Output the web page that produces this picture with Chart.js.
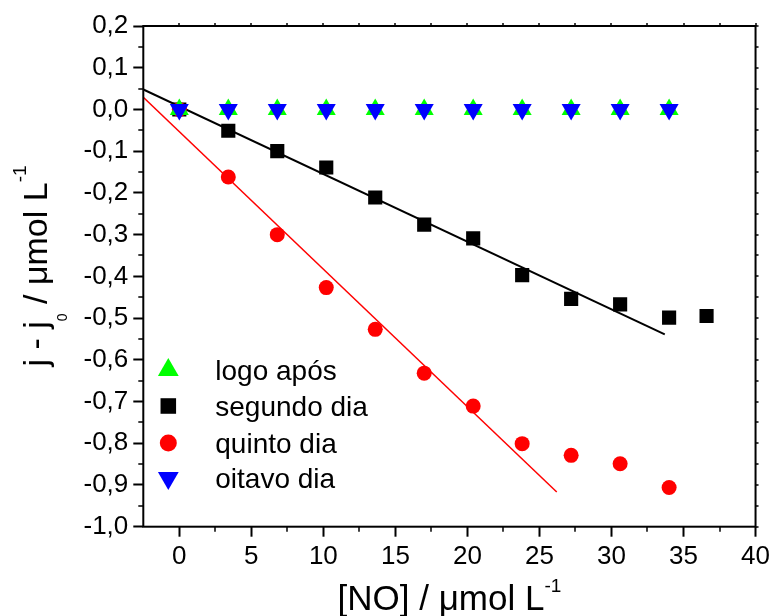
<!DOCTYPE html>
<html>
<head>
<meta charset="utf-8">
<script src="https://cdn.jsdelivr.net/npm/chart.js@4"></script>
<style>
  body { margin: 0; background: #fff; }
  canvas { display: block; }
</style>
</head>
<body>
<canvas id="chart" width="775" height="616"></canvas>
<script>
// [NO] / µmol L-1
const concNO = [0, 3.4, 6.8, 10.2, 13.6, 17.0, 20.4, 23.8, 27.2, 30.6, 34.0];
const concNOSegundo = [0, 3.4, 6.8, 10.2, 13.6, 17.0, 20.4, 23.8, 27.2, 30.6, 34.0, 36.6];

// j - j0 / µmol L-1
const logoApos = [0, 0, 0, 0, 0, 0, 0, 0, 0, 0, 0];
const segundoDia = [0, -0.051, -0.100, -0.139, -0.211, -0.276, -0.309, -0.397, -0.454, -0.467, -0.499, -0.495];
const quintoDia = [0, -0.162, -0.300, -0.427, -0.527, -0.632, -0.711, -0.801, -0.829, -0.849, -0.906];
const oitavoDia = [0, 0, 0, 0, 0, 0, 0, 0, 0, 0, 0];

// linear fits (end points)
const fitSegundoX = [-2.5, 33.7];
const fitSegundoY = [0.048, -0.539];
const fitQuintoX = [-2.5, 26.2];
const fitQuintoY = [0.029, -0.917];

const xTicks = [0, 5, 10, 15, 20, 25, 30, 35, 40];
const yTicks = [-1.0, -0.9, -0.8, -0.7, -0.6, -0.5, -0.4, -0.3, -0.2, -0.1, 0.0, 0.1, 0.2];

const FONT = "'Liberation Sans', Arial, sans-serif";

const toXY = (xs, ys) => ys.map((v, i) => ({ x: xs[i], y: v }));

const fmtComma = v => (Math.abs(v) < 1e-9 ? 0 : v).toFixed(1).replace('.', ',');

// legend drawn inside the plot area, bottom left
const insideLegend = {
  id: 'insideLegend',
  afterDraw(chart) {
    const { ctx, chartArea } = chart;
    const items = [
      { ds: 0, r: 12 },
      { ds: 1, r: 11 },
      { ds: 2, r: 8.5 },
      { ds: 3, r: 12 }
    ];
    const rowY = [370, 406, 443, 478];
    ctx.save();
    items.forEach((it, i) => {
      const ds = chart.data.datasets[it.ds];
      ctx.fillStyle = ds.backgroundColor;
      Chart.helpers.drawPoint(ctx, {
        pointStyle: ds.pointStyle,
        rotation: ds.rotation || 0,
        radius: it.r,
        borderWidth: 0
      }, chartArea.left + 25, rowY[i]);
      ctx.fillStyle = '#000';
      ctx.font = '28px ' + FONT;
      ctx.textAlign = 'left';
      ctx.textBaseline = 'alphabetic';
      ctx.fillText(ds.label, chartArea.left + 72, rowY[i] + 10);
    });
    ctx.restore();
  }
};

// box, minor ticks and axis titles with sub/superscripts
const frame = {
  id: 'frame',
  afterDraw(chart) {
    const { ctx, chartArea: a, scales: { x, y } } = chart;
    ctx.save();
    ctx.strokeStyle = '#000';
    ctx.lineWidth = 2;
    ctx.strokeRect(a.left, a.top, a.right - a.left, a.bottom - a.top);

    ctx.lineWidth = 1.5;
    ctx.beginPath();
    for (let v = 0; v <= 40; v += 2.5) {
      const px = Math.round(x.getPixelForValue(v));
      if (v % 5 !== 0) {
        ctx.moveTo(px, a.bottom);
        ctx.lineTo(px, a.bottom + 5);
      }
      ctx.moveTo(px, a.top);
      ctx.lineTo(px, a.top - 3);
    }
    for (let k = -20; k <= 4; k++) {
      const v = k * 0.05;
      const py = Math.round(y.getPixelForValue(v));
      if (k % 2 !== 0) {
        ctx.moveTo(a.left, py);
        ctx.lineTo(a.left - 5, py);
      }
      ctx.moveTo(a.right, py);
      ctx.lineTo(a.right + 3, py);
    }
    ctx.stroke();

    ctx.fillStyle = '#000';
    ctx.textBaseline = 'alphabetic';
    ctx.textAlign = 'left';
    const drawRuns = (runs, cx, cy) => {
      let w = 0;
      runs.forEach(r => { ctx.font = r.f + 'px ' + FONT; w += ctx.measureText(r.t).width; });
      let px = cx - w / 2;
      runs.forEach(r => {
        ctx.font = r.f + 'px ' + FONT;
        ctx.fillText(r.t, px, cy + r.dy);
        px += ctx.measureText(r.t).width;
      });
    };

    drawRuns([
      { t: '[NO] / \u03bcmol L', f: 35, dy: 0 },
      { t: '-1', f: 19, dy: -18 }
    ], (a.left + a.right) / 2, 610);

    ctx.save();
    ctx.translate(47, 266);
    ctx.rotate(-Math.PI / 2);
    drawRuns([
      { t: 'j - j', f: 34, dy: 0 },
      { t: '0', f: 14, dy: 20 },
      { t: ' / \u03bcmol L', f: 34, dy: 0 },
      { t: '-1', f: 19, dy: -21 }
    ], 0, 0);
    ctx.restore();
    ctx.restore();
  }
};

new Chart(document.getElementById('chart'), {
  type: 'scatter',
  data: {
    datasets: [
      {
        label: 'logo após',
        data: toXY(concNO, logoApos),
        pointStyle: 'triangle',
        pointRadius: 11,
        backgroundColor: '#00ff00',
        borderWidth: 0,
        order: 1
      },
      {
        label: 'segundo dia',
        data: toXY(concNOSegundo, segundoDia),
        pointStyle: 'rect',
        pointRadius: 10,
        backgroundColor: '#000000',
        borderWidth: 0,
        order: 3
      },
      {
        label: 'quinto dia',
        data: toXY(concNO, quintoDia),
        pointStyle: 'circle',
        pointRadius: 7.5,
        backgroundColor: '#ff0000',
        borderWidth: 0,
        order: 2
      },
      {
        label: 'oitavo dia',
        data: toXY(concNO, oitavoDia),
        pointStyle: 'triangle',
        rotation: 180,
        pointRadius: 11,
        backgroundColor: '#0000ff',
        borderWidth: 0,
        order: 0
      },
      {
        type: 'line',
        label: 'ajuste segundo dia',
        data: toXY(fitSegundoX, fitSegundoY),
        borderColor: '#000000',
        borderWidth: 2,
        pointRadius: 0,
        fill: false,
        order: 4
      },
      {
        type: 'line',
        label: 'ajuste quinto dia',
        data: toXY(fitQuintoX, fitQuintoY),
        borderColor: '#ff0000',
        borderWidth: 1.5,
        pointRadius: 0,
        fill: false,
        order: 5
      }
    ]
  },
  options: {
    responsive: false,
    animation: false,
    events: [],
    layout: { padding: { top: 26, right: 17.5, left: 0, bottom: 0 } },
    plugins: {
      legend: { display: false },
      tooltip: { enabled: false }
    },
    scales: {
      x: {
        type: 'linear',
        min: -2.5,
        max: 40,
        afterBuildTicks: s => { s.ticks = xTicks.map(v => ({ value: v })); },
        afterFit: s => { s.height = 89.3; },
        border: { display: false },
        grid: { drawOnChartArea: false, tickLength: 10, tickWidth: 2, tickColor: '#000' },
        ticks: {
          color: '#000',
          font: { family: FONT, size: 26 },
          padding: 5,
          maxRotation: 0,
          callback: v => String(v)
        },
        title: { display: false }
      },
      y: {
        type: 'linear',
        min: -1.0,
        max: 0.2,
        afterBuildTicks: s => { s.ticks = yTicks.map(v => ({ value: v })); },
        afterFit: s => { s.width = 143.3; },
        border: { display: false },
        grid: { drawOnChartArea: false, tickLength: 10, tickWidth: 2, tickColor: '#000' },
        ticks: {
          color: '#000',
          font: { family: FONT, size: 26 },
          padding: 5,
          callback: v => fmtComma(v)
        },
        title: { display: false }
      }
    }
  },
  plugins: [frame, insideLegend]
});
</script>
</body>
</html>
